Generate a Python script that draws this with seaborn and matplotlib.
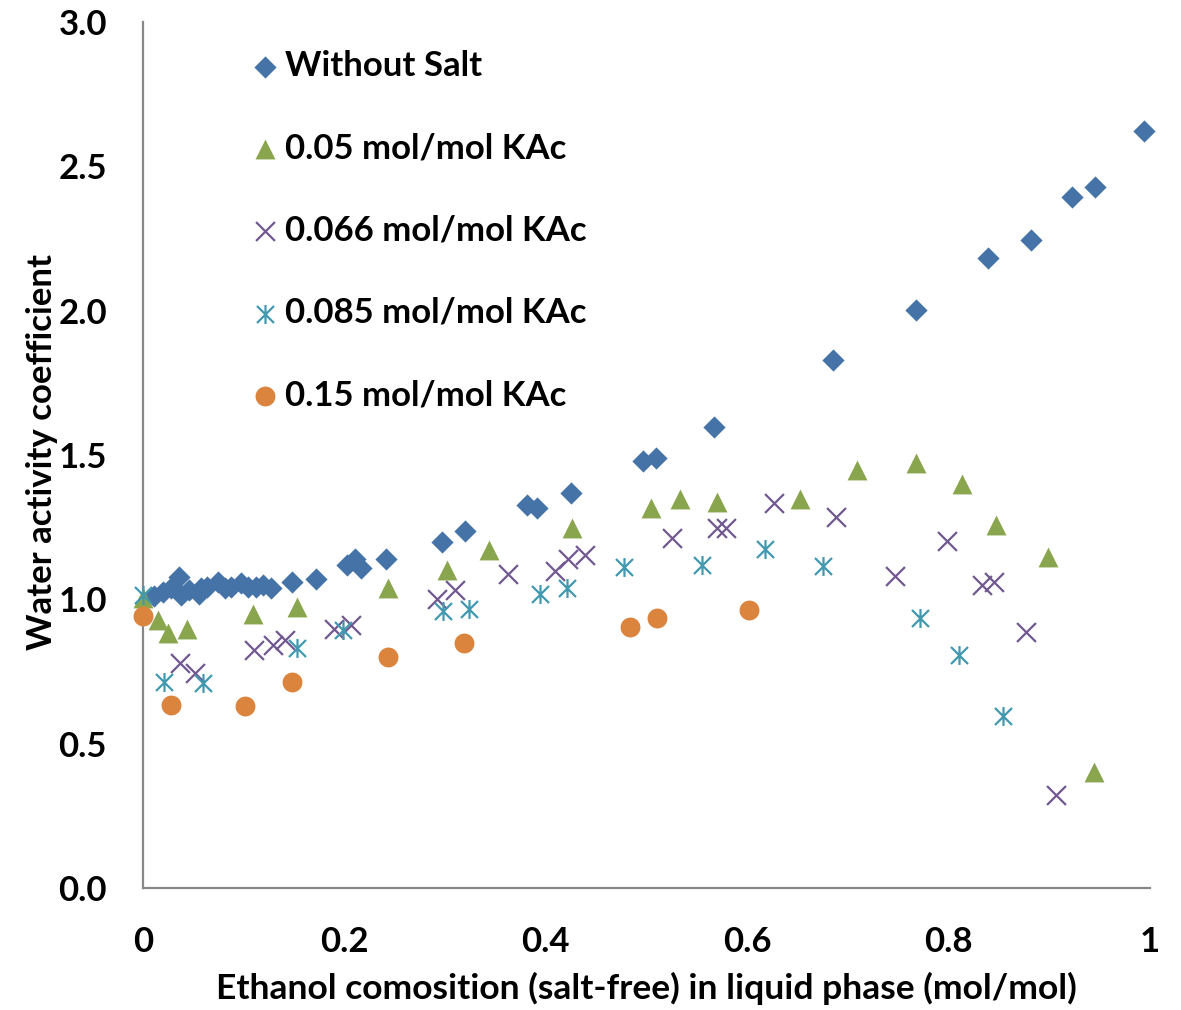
import matplotlib
matplotlib.use("Agg")
import matplotlib.pyplot as plt
import seaborn as sns
import pandas as pd
from matplotlib.path import Path

# ---------------- data ----------------
x_nosalt = [0.011, 0.020, 0.028, 0.036, 0.038, 0.046, 0.056, 0.058, 0.064, 0.074, 0.081, 0.087,
            0.097, 0.104, 0.112, 0.119, 0.127, 0.148, 0.172, 0.203, 0.211, 0.216, 0.241, 0.297,
            0.320, 0.381, 0.391, 0.425, 0.497, 0.509, 0.567, 0.685, 0.768, 0.839, 0.882, 0.923,
            0.945, 0.994]
y_nosalt = [1.010, 1.026, 1.038, 1.078, 1.015, 1.032, 1.020, 1.038, 1.043, 1.061, 1.038, 1.043,
            1.055, 1.043, 1.043, 1.049, 1.038, 1.061, 1.072, 1.119, 1.141, 1.107, 1.141, 1.199,
            1.237, 1.327, 1.318, 1.367, 1.479, 1.489, 1.597, 1.829, 2.002, 2.182, 2.245, 2.393,
            2.428, 2.622]

x_005 = [0.0, 0.015, 0.025, 0.044, 0.109, 0.153, 0.243, 0.302, 0.344, 0.426, 0.504, 0.533,
         0.570, 0.652, 0.709, 0.768, 0.813, 0.847, 0.899, 0.944]
y_005 = [1.003, 0.928, 0.882, 0.896, 0.949, 0.974, 1.040, 1.103, 1.171, 1.246, 1.315, 1.349,
         1.338, 1.346, 1.448, 1.473, 1.399, 1.257, 1.147, 0.403]

x_0066 = [0.037, 0.052, 0.110, 0.129, 0.141, 0.190, 0.207, 0.292, 0.310, 0.362, 0.409, 0.422,
          0.439, 0.525, 0.570, 0.579, 0.627, 0.688, 0.747, 0.798, 0.833, 0.845, 0.877, 0.907]
y_0066 = [0.778, 0.745, 0.824, 0.842, 0.859, 0.896, 0.911, 1.000, 1.034, 1.088, 1.099, 1.138,
          1.153, 1.211, 1.246, 1.246, 1.332, 1.286, 1.081, 1.202, 1.050, 1.061, 0.887, 0.322]

x_0085 = [0.0, 0.021, 0.060, 0.153, 0.199, 0.298, 0.324, 0.394, 0.421, 0.478, 0.555, 0.618,
          0.675, 0.772, 0.810, 0.854]
y_0085 = [1.015, 0.714, 0.711, 0.830, 0.894, 0.960, 0.968, 1.020, 1.038, 1.113, 1.119, 1.173,
          1.115, 0.934, 0.807, 0.596]

x_015 = [0.0, 0.028, 0.101, 0.148, 0.243, 0.319, 0.484, 0.510, 0.602]
y_015 = [0.942, 0.634, 0.630, 0.714, 0.799, 0.849, 0.903, 0.935, 0.963]

series_names = ["Without Salt", "0.05 mol/mol KAc", "0.066 mol/mol KAc",
                "0.085 mol/mol KAc", "0.15 mol/mol KAc"]
x_ticks = [0, 0.2, 0.4, 0.6, 0.8, 1.0]
x_ticklabels = ["0", "0.2", "0.4", "0.6", "0.8", "1"]
y_ticks = [0.0, 0.5, 1.0, 1.5, 2.0, 2.5, 3.0]
y_ticklabels = ["0.0", "0.5", "1.0", "1.5", "2.0", "2.5", "3.0"]

# ---------------- style ----------------
sns.set_style("white")
plt.rcParams["font.family"] = ["Lato", "DejaVu Sans"]
plt.rcParams["font.weight"] = "bold"

colors = ["#4572A7", "#89A54E", "#71588F", "#4198AF", "#DB843D"]

# asterisk marker: X plus vertical bar
ast_path = Path(
    [(0, -0.5), (0, 0.5), (-0.45, -0.45), (0.45, 0.45), (-0.45, 0.45), (0.45, -0.45)],
    [Path.MOVETO, Path.LINETO, Path.MOVETO, Path.LINETO, Path.MOVETO, Path.LINETO],
)
# triangle with equal width and height (Excel style)
tri_path = Path([(0, 0.5), (-0.5, -0.5), (0.5, -0.5), (0, 0.5)],
                [Path.MOVETO, Path.LINETO, Path.LINETO, Path.CLOSEPOLY])

fig = plt.figure(figsize=(11.81, 10.10), dpi=100)
ax = fig.add_axes([143 / 1181, 122 / 1010, 1007 / 1181, 866 / 1010])

data = [
    (x_nosalt, y_nosalt, "D", 128, None),
    (x_005, y_005, tri_path, 205, None),
    (x_0066, y_0066, "x", 185, 1.6),
    (x_0085, y_0085, ast_path, 185, 1.6),
    (x_015, y_015, "o", 205, None),
]

for (xs, ys, mk, sz, lw), name, c in zip(data, series_names, colors):
    df = pd.DataFrame({"x": xs, "y": ys})
    if lw is not None:
        kw = dict(linewidth=lw, edgecolor=c)
    else:
        kw = dict(linewidth=0)
    sns.scatterplot(data=df, x="x", y="y", ax=ax, marker=mk, s=sz, color=c,
                    label=name, clip_on=False, zorder=3, **kw)

ax.set_xlim(0, 1)
ax.set_ylim(0, 3)
ax.set_xticks(x_ticks)
ax.set_xticklabels(x_ticklabels)
ax.set_yticks(y_ticks)
ax.set_yticklabels(y_ticklabels)
ax.tick_params(axis="both", length=0, labelsize=25, labelcolor="black")
ax.tick_params(axis="y", pad=26)
ax.tick_params(axis="x", pad=27)
for lab in ax.get_xticklabels() + ax.get_yticklabels():
    lab.set_fontweight("bold")

for side in ["top", "right"]:
    ax.spines[side].set_visible(False)
for side in ["left", "bottom"]:
    ax.spines[side].set_color("#888888")
    ax.spines[side].set_linewidth(1.6)

ax.set_xlabel("Ethanol comosition (salt-free) in liquid phase (mol/mol)",
              fontsize=25.5, fontweight="bold", color="black")
ax.set_ylabel("Water activity coefficient", fontsize=25, fontweight="bold", color="black")
ax.xaxis.set_label_coords(0.5, -0.097)
ax.yaxis.set_label_coords(-0.084, 0.503)

leg = ax.legend(loc="upper left", bbox_to_anchor=(0.107, 0.968), frameon=False,
                fontsize=25, labelspacing=1.45, handlelength=0.8, handletextpad=0.18,
                borderpad=0, borderaxespad=0, markerscale=1.0)
for t in leg.get_texts():
    t.set_fontweight("bold")
    t.set_color("black")

fig.savefig("out.png", dpi=100)
